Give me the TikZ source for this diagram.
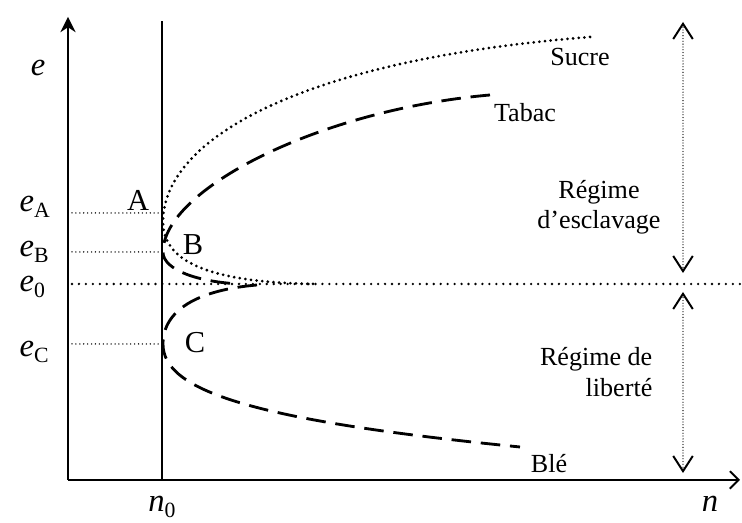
\documentclass[tikz,border=0pt]{standalone}
\usepackage{fontspec}
\setmainfont{Liberation Serif}
\usetikzlibrary{arrows.meta}

\newcommand{\lowidx}[1]{\raisebox{-0.35ex}{\fontsize{10}{10}\selectfont #1}}

\begin{document}
\begin{tikzpicture}[x=0.46pt, y=0.46pt,
    lbl/.style={font=\fontsize{12}{14}\selectfont},
    axlbl/.style={font=\fontsize{15}{17}\selectfont},
    ptlbl/.style={font=\fontsize{14}{16}\selectfont},
    guide/.style={line width=0.7pt, dash pattern=on 0pt off 1.8pt, line cap=round},
    dotcurve/.style={line width=1.4pt, dash pattern=on 0pt off 2.6pt, line cap=round},
    dashcurve/.style={line width=1.3pt, dash pattern=on 9pt off 4.5pt},
    span/.style={line width=0.6pt, dash pattern=on 0pt off 1.3pt, line cap=round,
      {Straight Barb[length=7pt,width=9pt,line width=0.9pt]}-{Straight Barb[length=7pt,width=9pt,line width=0.9pt]}}]
  \useasboundingbox (-68,-43) rectangle (674,480);

  % Axes
  \coordinate (O) at (0,0);
  \coordinate (yTop) at (0,463);
  \coordinate (xEnd) at (672,0);
  \coordinate (nTop) at (94,459);
  \draw[line width=0.9pt, -{Stealth[length=7pt,width=7pt]}] (O) -- (yTop);
  \draw[line width=0.9pt, -{Straight Barb[length=4pt,width=8pt]}] (O) -- (xEnd);
  \draw[line width=0.8pt] (nTop |- O) -- (nTop);

  % Levels e_A, e_B, e_C and e_0
  \coordinate (eA) at (4,267);
  \coordinate (eB) at (4,228);
  \coordinate (eC) at (4,136);
  \coordinate (eZero) at (4,196);
  \foreach \lv in {eA,eB,eC} {
    \draw[guide] (\lv) -- (\lv -| nTop);
  }
  \draw[line width=1.2pt, dash pattern=on 0pt off 3.2pt, line cap=round] (eZero) -- (674,196);

  % Curves: Sucre (dotted), Tabac and Ble (dashed)
  \coordinate (ptA) at (95,258);
  \coordinate (ptB) at (95,228);
  \coordinate (ptC) at (95,136);
  \draw[dotcurve] (522,443) .. controls (230,420) and (95,340) .. (ptA)
    .. controls (95,215) and (150,197) .. (250,196);
  \draw[dashcurve] (422,385) .. controls (250,370) and (95,290) .. (ptB)
    .. controls (95,210) and (130,198) .. (172,196);
  \draw[dashcurve] (189,195) .. controls (130,190) and (95,170) .. (ptC)
    .. controls (95,90) and (180,60) .. (452,33);

  % Regime arrows
  \coordinate (slaveTop) at (615,458);
  \coordinate (slaveBot) at (615,207);
  \coordinate (freeTop) at (615,188);
  \coordinate (freeBot) at (615,7);
  \draw[span] (slaveBot) -- (slaveTop);
  \draw[span] (freeTop) -- (freeBot);

  % Axis labels
  \node[axlbl] (lblE) at (-30,412) {\textit{e}};
  \node[axlbl, anchor=base west] (lblEA) at (-56,268) {\textit{e}\lowidx{A}};
  \node[axlbl, anchor=base west] (lblEB) at (-56,223) {\textit{e}\lowidx{B}};
  \node[axlbl, anchor=base west] (lblEZero) at (-56,188) {\textit{e}\lowidx{0}};
  \node[axlbl, anchor=base west] (lblEC) at (-56,123) {\textit{e}\lowidx{C}};
  \node[axlbl, anchor=base] (lblNZero) at (94,-32) {\textit{n}\lowidx{0}};
  \node[axlbl, anchor=base] (lblN) at (642,-32) {\textit{n}};

  % Point and curve labels
  \node[ptlbl] (lblA) at (70,280) {A};
  \node[ptlbl] (lblB) at (125,235) {B};
  \node[ptlbl] (lblC) at (127,137) {C};
  \node[lbl] (lblSucre) at (512,423) {Sucre};
  \node[lbl] (lblTabac) at (457,367) {Tabac};
  \node[lbl] (lblBle) at (481,16) {Blé};
  \node[lbl, align=center] (lblSlave) at (531,273) {Régime\\d’esclavage};
  \node[lbl, align=right, anchor=east] (lblFree) at (592,108) {Régime de\\liberté};
\end{tikzpicture}
\end{document}
